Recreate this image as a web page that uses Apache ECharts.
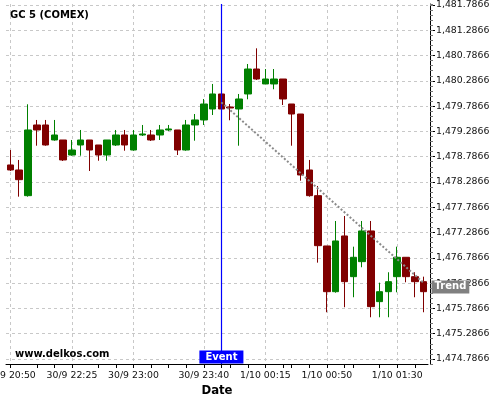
<!DOCTYPE html>
<html><head><meta charset="utf-8">
<script src="https://cdn.jsdelivr.net/npm/echarts@6/dist/echarts.min.js"></script>
<style>html,body{margin:0;padding:0;background:#fff}#c{width:500px;height:400px}</style>
</head><body><div id="c"></div>
<script>
const categories = [
  '30/9 20:50','30/9 21:55','30/9 22:00','30/9 22:05','30/9 22:10','30/9 22:15','30/9 22:20','30/9 22:25',
  '30/9 22:30','30/9 22:35','30/9 22:40','30/9 22:45','30/9 22:50','30/9 22:55','30/9 23:00','30/9 23:05',
  '30/9 23:10','30/9 23:15','30/9 23:20','30/9 23:25','30/9 23:30','30/9 23:35','30/9 23:40','30/9 23:45',
  '30/9 23:50','30/9 23:55','1/10 00:00','1/10 00:05','1/10 00:10','1/10 00:15','1/10 00:20','1/10 00:25',
  '1/10 00:30','1/10 00:35','1/10 00:40','1/10 00:45','1/10 00:50','1/10 00:55','1/10 01:00','1/10 01:05',
  '1/10 01:10','1/10 01:15','1/10 01:20','1/10 01:25','1/10 01:30','1/10 01:35','1/10 01:40','1/10 01:45'
];
const openVals = [
  1478.623,1478.524,1478.016,1479.414,1479.414,1479.117,1479.117,1478.820,
  1479.018,1479.117,1479.018,1478.820,1479.018,1479.216,1478.919,1479.216,
  1479.216,1479.216,1479.315,1479.315,1478.919,1479.414,1479.513,1479.730,
  1480.027,1479.770,1479.730,1480.027,1480.521,1480.225,1480.225,1480.323,
  1479.829,1479.631,1478.524,1478.016,1477.021,1476.117,1477.219,1476.414,
  1476.711,1477.318,1475.920,1476.117,1476.414,1476.797,1476.414,1476.315
];
const closeVals = [
  1478.524,1478.332,1479.315,1479.315,1479.018,1479.216,1478.722,1478.919,
  1479.117,1478.919,1478.820,1479.117,1479.216,1479.018,1479.216,1479.236,
  1479.117,1479.315,1479.335,1478.919,1479.414,1479.513,1479.829,1480.027,
  1479.730,1479.750,1479.928,1480.521,1480.323,1480.323,1480.323,1479.928,
  1479.631,1478.425,1478.016,1477.027,1476.117,1477.120,1476.315,1476.797,
  1477.318,1475.821,1476.117,1476.315,1476.797,1476.414,1476.315,1476.117
];
const lowVals = [
  1478.504,1477.996,1477.996,1479.004,1479.004,1479.103,1478.702,1478.806,
  1478.806,1478.504,1478.707,1478.707,1478.998,1478.905,1478.905,1479.196,
  1479.097,1479.117,1479.295,1478.820,1478.905,1479.103,1479.414,1479.611,
  1479.730,1479.507,1479.004,1479.922,1480.304,1480.225,1480.120,1479.809,
  1479.004,1478.312,1477.996,1476.691,1475.710,1476.097,1475.809,1476.007,
  1476.600,1475.611,1475.611,1475.611,1476.105,1476.303,1476.007,1475.710
];
const highVals = [
  1478.919,1478.722,1479.823,1479.513,1479.513,1479.513,1479.117,1479.117,
  1479.315,1479.117,1479.018,1479.117,1479.315,1479.315,1479.315,1479.414,
  1479.315,1479.414,1479.414,1479.315,1479.513,1479.631,1479.928,1480.225,
  1480.027,1479.829,1480.027,1480.620,1480.930,1480.521,1480.521,1480.323,
  1479.829,1479.631,1478.722,1478.207,1477.021,1477.515,1477.614,1477.007,
  1477.515,1477.515,1476.295,1476.501,1477.007,1476.797,1476.501,1476.414
];
const labelCategories = ['30/9 20:50','30/9 22:25','30/9 23:00','30/9 23:40','1/10 00:15','1/10 00:50','1/10 01:30'];
const minorTickCategories = ['30/9 22:05','30/9 22:15','30/9 22:40','30/9 22:50','30/9 23:10','30/9 23:20','30/9 23:30',
  '30/9 23:50','30/9 23:55','1/10 00:05','1/10 00:25','1/10 00:30','1/10 00:40','1/10 01:00','1/10 01:05','1/10 01:20','1/10 01:40'];
const yTickValues = [1474.7866,1475.2866,1475.7866,1476.2866,1476.7866,1477.2866,1477.7866,1478.2866,
  1478.7866,1479.2866,1479.7866,1480.2866,1480.7866,1481.2866,1481.7866];
const yMin = 1474.6866, yMax = 1481.8066;
const eventCategory = '30/9 23:50';
const trendCategories = ['30/9 23:50','1/10 01:45'];
const trendValues = [1479.861, 1476.291];

const labelSet = new Set(labelCategories.map(c => categories.indexOf(c)));
const tickSet = new Set([...labelSet, ...minorTickCategories.map(c => categories.indexOf(c))]);
const ohlc = categories.map((c, i) => [openVals[i], closeVals[i], lowVals[i], highVals[i]]);
const trendData = categories.map(c => {
  const k = trendCategories.indexOf(c);
  return k >= 0 ? trendValues[k] : '-';
});
const eventIdx = categories.indexOf(eventCategory);
const fmtY = v => Number(v).toLocaleString('en-US', {minimumFractionDigits: 4, maximumFractionDigits: 4});
const gridDash = {color: '#c8c8c8', width: 1, type: [3, 3]};

const chart = echarts.init(document.getElementById('c'), null, {renderer: 'canvas'});
chart.setOption({
  animation: false,
  textStyle: {fontFamily: 'DejaVu Sans'},
  title: [
    {text: 'GC 5 (COMEX)', left: 10, top: 10, padding: 0,
     textStyle: {fontSize: 10, fontWeight: 'bold', color: '#000', fontFamily: 'DejaVu Sans'}},
    {text: 'www.delkos.com', left: 15, top: 349, padding: 0,
     textStyle: {fontSize: 10, fontWeight: 'bold', color: '#000', fontFamily: 'DejaVu Sans'}}
  ],
  grid: {left: 6, right: 72, top: 4, bottom: 36, containLabel: false, outerBoundsMode: 'none'},
  xAxis: {
    type: 'category', data: categories, boundaryGap: true,
    name: 'Date', nameLocation: 'middle', nameGap: 20,
    nameTextStyle: {fontSize: 11.7, fontWeight: 'bold', color: '#000'},
    axisLine: {show: true, onZero: false, lineStyle: {color: '#000', width: 1}},
    axisTick: {show: true, alignWithLabel: true, length: 4, lineStyle: {color: '#000'},
      interval: (i) => tickSet.has(i)},
    axisLabel: {show: true, color: '#111', fontSize: 9.33, margin: 7, hideOverlap: false,
      interval: (i) => labelSet.has(i)},
    splitLine: {show: true, alignWithLabel: true, interval: (i) => labelSet.has(i), lineStyle: gridDash}
  },
  yAxis: [
    {
      type: 'value', position: 'right', offset: 2, min: yMin, max: yMax, scale: true,
      axisLine: {show: true, lineStyle: {color: '#000', width: 1}},
      axisTick: {show: true, length: 5, customValues: yTickValues, lineStyle: {color: '#000'}},
      axisLabel: {show: true, customValues: yTickValues, color: '#111', fontSize: 9.33, margin: 6,
        formatter: fmtY},
      splitLine: {show: true, lineStyle: gridDash}
    },
    {
      type: 'value', position: 'right', offset: 2, min: yMin, max: yMax, interval: 0.1, scale: true,
      axisLine: {show: false},
      axisTick: {show: true, length: 3, lineStyle: {color: '#777'}},
      axisLabel: {show: false},
      splitLine: {show: false}
    }
  ],
  series: [
    {
      type: 'candlestick', data: ohlc, barWidth: 7, yAxisIndex: 0,
      itemStyle: {color: '#008000', color0: '#800000', borderColor: '#008000', borderColor0: '#800000', borderWidth: 1},
      markLine: {
        silent: true, symbol: ['none', 'none'], animation: false,
        label: {show: false},
        lineStyle: {color: '#0000ff', width: 1.2, type: 'solid', opacity: 1},
        data: [{xAxis: eventIdx}]
      },
      markPoint: {
        silent: true, animation: false,
        data: [{
          coord: [eventIdx, yMin], symbol: 'rect', symbolSize: 1,
          itemStyle: {color: 'rgba(0,0,0,0)'},
          label: {show: true, formatter: 'Event', position: 'inside', offset: [0, -7],
            color: '#fff', fontWeight: 'bold', fontSize: 10, fontFamily: 'DejaVu Sans',
            backgroundColor: '#0000ff', padding: [1, 6, 1, 6], lineHeight: 11}
        }]
      }
    },
    {
      type: 'line', data: trendData, connectNulls: true, yAxisIndex: 0,
      showSymbol: false, symbol: 'none', z: 5, silent: true,
      lineStyle: {color: '#8a8a8a', width: 2, type: [2, 2]},
      endLabel: {show: true, formatter: 'Trend', color: '#fff', fontWeight: 'bold', fontSize: 10,
        fontFamily: 'DejaVu Sans', backgroundColor: '#808080', padding: [1, 3, 1, 3], lineHeight: 11,
        distance: 8, offset: [0, 4]}
    }
  ]
});
</script>
</body></html>
